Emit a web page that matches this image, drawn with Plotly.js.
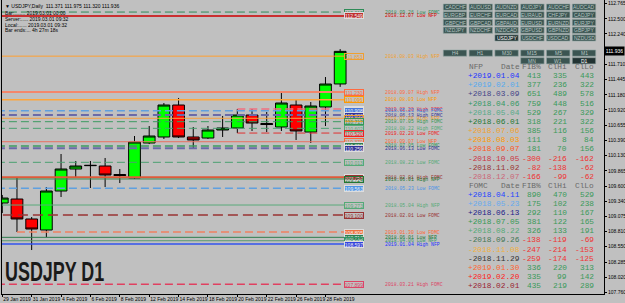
<!DOCTYPE html>
<html><head><meta charset="utf-8">
<script src="https://cdn.plot.ly/plotly-3.0.1.min.js"></script>
<style>html,body{margin:0;padding:0;background:#c0c0c0;overflow:hidden}</style>
</head><body><div id="chart" style="width:625px;height:303px"></div>
<script>
// ---------- data ----------
const dates = ['2019-01-29','2019-01-30','2019-01-31','2019-02-01','2019-02-04','2019-02-05','2019-02-06','2019-02-07','2019-02-08','2019-02-11','2019-02-12','2019-02-13','2019-02-14','2019-02-15','2019-02-18','2019-02-19','2019-02-20','2019-02-21','2019-02-22','2019-02-25','2019-02-26','2019-02-27','2019-02-28','2019-03-01'];
const openP  = [109.308,109.377,109.031,108.840,109.516,109.897,109.955,109.949,109.802,109.741,110.348,110.452,111.006,110.452,110.434,110.573,110.608,110.833,110.686,110.625,111.006,110.538,110.972,111.371];
const highP  = [109.447,109.741,109.065,109.585,110.157,110.036,110.036,110.088,109.897,110.469,110.642,111.041,111.128,110.625,110.642,110.816,110.937,110.937,110.885,111.214,111.093,111.058,111.491,111.975];
const lowP   = [109.134,108.805,108.493,108.718,109.412,109.741,109.568,109.585,109.654,109.724,110.330,110.417,110.434,110.244,110.417,110.452,110.520,110.556,110.538,110.556,110.400,110.348,110.642,111.320];
const closeP = [109.394,109.031,108.857,109.516,109.897,109.949,109.960,109.793,109.785,110.365,110.469,111.006,110.452,110.400,110.573,110.608,110.833,110.694,110.668,111.041,110.556,110.989,111.370,111.936];
const bidPrice = 111.936;

const yTickVals = [112.765,112.500,112.240,111.710,111.445,111.180,110.920,110.655,110.390,110.130,109.865,109.600,109.340,109.075,108.810,108.550,108.285,108.020,107.760];

const levelPrices = [112.617,112.549,111.853,111.230,111.096,110.937,110.908,110.833,110.776,110.717,110.602,110.520,110.370,110.296,110.256,110.013,109.753,109.724,109.563,109.273,109.100,108.805,108.713,108.654,108.597,107.899];
const levelNames = ['2018.09.26 Low FOMC','2018.12.07 Low NFP','2018.08.03 High NFP','2018.09.07 High NFP','2018.08.03 Low NFP','2019.02.20 High FOMC','2018.05.23 High FOMC','2018.06.13 High FOMC','2018.07.06 High NFP','2018.07.05 High FOMC','2018.08.22 High FOMC','2019.02.20 Low FOMC','2018.09.07 Low NFP','2018.07.05 Low FOMC','2018.06.13 Low FOMC','2018.08.22 Low FOMC','2018.02.01 High FOMC','2018.06.01 High NFP','2018.05.23 Low FOMC','2018.05.04 High NFP','2018.02.01 Low FOMC','2019.01.30 Low FOMC','2018.06.01 Low NFP','2018.04.06 Low NFP','2019.01.04 High NFP','2018.03.21 High FOMC'];
const levelFrom = [null,null,null,null,null,'2019-02-20',null,null,null,null,null,'2019-02-20',null,null,null,null,null,null,null,null,null,'2019-01-30',null,null,null,null];

const nfpDates = ['+2019.01.04','+2019.02.01','+2018.03.09','+2018.04.06','+2018.05.04','+2018.06.01','+2018.07.06','+2018.08.03','+2018.09.07','-2018.10.05','-2018.11.02','-2018.12.07'];
const nfpFib  = [413,377,651,759,529,318,385,111,181,-300,-82,-166];
const nfpClHi = [335,236,489,448,267,221,116,8,70,-216,-138,-99];
const nfpClLo = [443,322,578,516,329,322,156,84,156,-162,-62,-62];
const fomcDates = ['+2018.04.11','+2018.05.23','+2018.06.13','+2018.07.05','+2018.08.22','-2018.09.26','-2018.11.08','-2018.11.29','+2019.01.30','+2019.02.20','+2018.02.01'];
const fomcFib  = [890,175,292,381,326,-138,-247,-259,336,335,435];
const fomcClHi = [470,102,110,122,133,-119,-214,-174,220,99,219];
const fomcClLo = [529,238,167,165,191,-69,-153,-125,313,142,289];
const tableHeads = ['Date','FIB%','ClHi','ClLo'];

const symbolRows = [['CADCHF','AUDUSD','AUDNZD','AUDJPY','AUDCHF','AUDCAD'],['EURGBP','EURCHF','EURCAD','EURAUD','CHFJPY','CADJPY'],['GBPCHF','GBPCAD','GBPAUD','EURUSD','EURNZD','EURJPY'],['NZDJPY','NZDCHF','NZDCAD','GBPUSD','GBPNZD','GBPJPY'],['','','USDJPY','USDCHF','USDCAD','NZDUSD']];
const tfRows = [['H4','H1','M30','M15','M5','M1'],['','','','MN','W1','D1']];
const headerLines = ['Bar:........ 2019.03.01 00:00','Server:..... 2019.03.01 09:32','Local:...... 2019.03.01 09:32','Bar ends:... 4h 27m 18s'];
const symbolName = 'USDJPY', tfName = 'Daily', bigTitle = 'USDJPY D1';

// ---------- styles (not data) ----------
const levelStyles = [
 {c:'#2e8b57',d:'8px,4px',w:1,  bg:null,     t:'#2e8b57'},
 {c:'#cc0000',d:'solid',  w:1.5,bg:'#c03030',t:'#dd0000'},
 {c:'#ff9f30',d:'solid',  w:1,  bg:null,     t:'#f0a030'},
 {c:'#f4866a',d:'solid',  w:2,  bg:null,     t:'#ff6a40'},
 {c:'#ffa53a',d:'solid',  w:1.5,bg:null,     t:'#ff9900'},
 {c:'#f07080',d:'8px,4px',w:1.5,bg:'#e05060',t:'#ee3344'},
 {c:'#5fa0e0',d:'8px,4px',w:1.5,bg:'#4477dd',t:'#3377dd'},
 {c:'#6a6aa8',d:'8px,4px',w:2,  bg:'#333399',t:'#333399'},
 {c:'#f5a040',d:'solid',  w:1,  bg:null,     t:'#f0a030'},
 {c:'#3c9a60',d:'8px,4px',w:1,  bg:null,     t:'#339955'},
 {c:'#4aa070',d:'8px,4px',w:1,  bg:null,     t:'#55aa77'},
 {c:'#e03030',d:'8px,4px',w:1,  bg:null,     t:'#ee2222'},
 {c:'#e87060',d:'solid',  w:1,  bg:null,     t:'#ff6633'},
 {c:'#3c9a60',d:'8px,4px',w:1.5,bg:'#2e7d4f',t:'#339955'},
 {c:'#6a6aa8',d:'8px,4px',w:2,  bg:'#333399',t:'#333399'},
 {c:'#4aa070',d:'8px,4px',w:1,  bg:null,     t:'#55aa77'},
 {c:'#e05a3a',d:'solid',  w:2,  bg:'#993333',t:'#993333'},
 {c:'#3c8a50',d:'solid',  w:1,  bg:null,     t:'#227733'},
 {c:'#5fa0e0',d:'8px,4px',w:1.5,bg:'#4d94e6',t:'#4d94e6'},
 {c:'#5aaa7a',d:'solid',  w:1,  bg:null,     t:'#55aa77'},
 {c:'#993333',d:'10px,5px',w:1.5,bg:null,    t:'#993333'},
 {c:'#f08060',d:'8px,4px',w:1.5,bg:'#f07040',t:'#ff6633'},
 {c:'#2e7d4f',d:'solid',  w:1,  bg:'#2e7d4f',t:'#227733'},
 {c:'#5a9a70',d:'solid',  w:1,  bg:null,     t:'#339966'},
 {c:'#3355ee',d:'solid',  w:1.5,bg:'#3344dd',t:'#2233ff'},
 {c:'#e04060',d:'8px,4px',w:1.5,bg:null,     t:'#dd4466'}
];
const nfpColors = ['#2233ff','#55aaee','#444488','#339966','#55aa88','#227733','#f0a030','#ff9900','#ff5522','#cc3344','#993333','#cc6677'];
const fomcColors = ['#2244ff','#66aaee','#222288','#339955','#55aa77','#447755','#f0b040','#333333','#ff6633','#ff2222','#992233'];

// ---------- geometry helpers ----------
const W=625,H=303, L=2, R=604, T=0, B=294;
const DX=14.69;
const xr=[-0.02,-0.02+(R-L)/DX];
const X0=L+0.02*DX;
const yTop=112.826, yBot=107.731;
const px = x => (x-L)/(R-L);
const py = y => (B-y)/(B-T);
const idx = dates.map((d,i)=>i);
const monthN=['Jan','Feb','Mar','Apr','May','Jun','Jul','Aug','Sep','Oct','Nov','Dec'];
const fmtDate = d => { const [y,m,dd]=d.split('-'); return (+dd)+' '+monthN[+m-1]+' '+y; };

const traces=[];
const lineEndX = (344-X0)/DX;
levelPrices.forEach((p,i)=>{
  const st=levelStyles[i];
  const x0 = levelFrom[i] ? dates.indexOf(levelFrom[i]) : -2;
  traces.push({type:'scatter',mode:'lines',x:[x0,lineEndX],y:[p,p],
    line:{color:st.c,width:st.w,dash:st.d},hoverinfo:'skip',showlegend:false});
});
traces.push({type:'candlestick',x:idx,open:openP,high:highP,low:lowP,close:closeP,
  increasing:{fillcolor:'#00ff00',line:{color:'#000000',width:1}},
  decreasing:{fillcolor:'#ff0000',line:{color:'#000000',width:1}},
  whiskerwidth:0,hoverinfo:'skip',showlegend:false});

const ann=[], shapes=[];
levelPrices.forEach((p,i)=>{
  const st=levelStyles[i];
  ann.push({xref:'paper',yref:'y',x:px(344),y:p,xanchor:'left',yanchor:'middle',showarrow:false,
    text:p.toFixed(3),font:{family:'Liberation Sans, Arial',size:5,color:st.bg?'#f0f0f0':st.t},
    bgcolor:st.bg||'rgba(0,0,0,0)',bordercolor:st.bg?'#dddddd':st.t,borderwidth:1,borderpad:0,width:18,height:5});
  ann.push({xref:'paper',yref:'y',x:px(383),y:p,xanchor:'left',yanchor:'middle',showarrow:false,
    text:levelNames[i],font:{family:'Liberation Mono, monospace',size:4.8,color:st.t}});
});
ann.push({xref:'paper',yref:'y',x:px(604),y:bidPrice,xanchor:'left',yanchor:'middle',showarrow:false,
  text:bidPrice.toFixed(3),font:{family:'Liberation Sans, Arial',size:5,color:'#ffffff'},bgcolor:'#000000',borderpad:1,width:17});
const n=closeP.length-1;
ann.push({xref:'paper',yref:'paper',x:px(3),y:py(1),xanchor:'left',yanchor:'top',showarrow:false,
  text:'▼ '+symbolName+','+tfName+'  '+openP[n].toFixed(3)+' '+highP[n].toFixed(3)+' '+lowP[n].toFixed(3)+' '+closeP[n].toFixed(3),
  font:{family:'Liberation Sans, Arial',size:5,color:'#000'}});
headerLines.forEach((t,i)=>ann.push({xref:'paper',yref:'paper',x:px(3),y:py(8.5+5.5*i),xanchor:'left',yanchor:'top',showarrow:false,
  text:t,font:{family:'Liberation Sans, Arial',size:5,color:'#000'}}));
ann.push({xref:'paper',yref:'paper',x:px(3),y:py(289),xanchor:'left',yanchor:'bottom',showarrow:false,
  text:bigTitle,font:{family:'Liberation Sans, Arial',size:28,weight:'bold',color:'#1a1a1a'}});

const tfont = (c)=>({family:'Liberation Mono, Courier New, monospace',size:7.8,color:c});
const numCol = v => v<0?'#ee3333':'#3a9a5a';
function tableBlock(title, y0, dl, fib, hi, lo, cols){
  ann.push({xref:'paper',yref:'paper',x:px(467),y:py(y0),xanchor:'left',yanchor:'middle',showarrow:false,text:title,font:tfont('#6a6a6a')});
  ann.push({xref:'paper',yref:'paper',x:px(499),y:py(y0),xanchor:'left',yanchor:'middle',showarrow:false,text:tableHeads[0],font:tfont('#6a6a6a')});
  [[543,1],[569,2],[596,3]].forEach(([xr_,k])=>ann.push({xref:'paper',yref:'paper',x:px(xr_),y:py(y0),xanchor:'right',yanchor:'middle',showarrow:false,text:tableHeads[k],font:tfont('#6a6a6a')}));
  dl.forEach((d,r)=>{
    const y=y0+9.15*(r+1);
    ann.push({xref:'paper',yref:'paper',x:px(466),y:py(y),xanchor:'left',yanchor:'middle',showarrow:false,text:d,font:tfont(cols[r])});
    [[543,fib[r]],[569,hi[r]],[596,lo[r]]].forEach(([xr_,v])=>ann.push({xref:'paper',yref:'paper',x:px(xr_),y:py(y),xanchor:'right',yanchor:'middle',showarrow:false,text:String(v),font:tfont(numCol(v))}));
  });
}
tableBlock('NFP',67,nfpDates,nfpFib,nfpClHi,nfpClLo,nfpColors);
tableBlock('FOMC',185.5,fomcDates,fomcFib,fomcClHi,fomcClLo,fomcColors);

function button(x,y,w,h,label,active){
  shapes.push({type:'rect',xref:'paper',yref:'paper',x0:px(x),x1:px(x+w),y0:py(y+h),y1:py(y),
    fillcolor:active?'#223333':'#3b5552',line:{color:'#8fa5a2',width:0.6},layer:'above'});
  ann.push({xref:'paper',yref:'paper',x:px(x+w/2),y:py(y+h/2),xanchor:'center',yanchor:'middle',showarrow:false,
    text:label,font:{family:'Liberation Sans, Arial',size:5,color:active?'#ffffff':'#b8c6c2'}});
}
const bx=c=>443.3+25.8*c;
symbolRows.forEach((row,r)=>row.forEach((s,c)=>{ if(s) button(bx(c),4+7.7*r,23.4,6.2,s,s===symbolName); }));
tfRows.forEach((row,r)=>row.forEach((s,c)=>{ if(s) button(bx(c),50+7.7*r,23.4,6.2,s,s==='D1'); }));

const tickIdx = idx.filter(i=>i%2===0 && i<dates.length-1);
const layout={
  width:W,height:H,margin:{l:L,r:W-R,t:T,b:H-B,pad:0},
  paper_bgcolor:'#c0c0c0',plot_bgcolor:'#c0c0c0',showlegend:false,
  boxgap:0.2,boxgroupgap:0,
  xaxis:{range:xr,tickvals:tickIdx,ticktext:tickIdx.map(i=>fmtDate(dates[i])),ticklabelposition:'outside right',tickangle:0,
    ticks:'outside',ticklen:2,tickcolor:'#000',tickfont:{family:'Liberation Sans, Arial',size:5,color:'#000'},
    showgrid:false,zeroline:false,showline:true,linecolor:'#000',linewidth:1,mirror:true,rangeslider:{visible:false},fixedrange:true},
  yaxis:{range:[yBot,yTop],side:'right',tickvals:yTickVals,ticktext:yTickVals.map(v=>v.toFixed(3)),
    ticks:'outside',ticklen:2,tickcolor:'#000',tickfont:{family:'Liberation Sans, Arial',size:5,color:'#000'},
    showgrid:false,zeroline:false,showline:true,linecolor:'#000',linewidth:1,mirror:true,fixedrange:true},
  annotations:ann,shapes:shapes
};
Plotly.newPlot('chart',traces,layout,{staticPlot:true,displayModeBar:false}).then(()=>{
  document.querySelectorAll('#chart .annotation-text').forEach(t=>{
    if(t.textContent===bigTitle){
      t.style.transformBox='fill-box'; t.style.transformOrigin='0 0'; t.style.transform='scaleX(0.64)';
    }
  });
});
</script></body></html>
